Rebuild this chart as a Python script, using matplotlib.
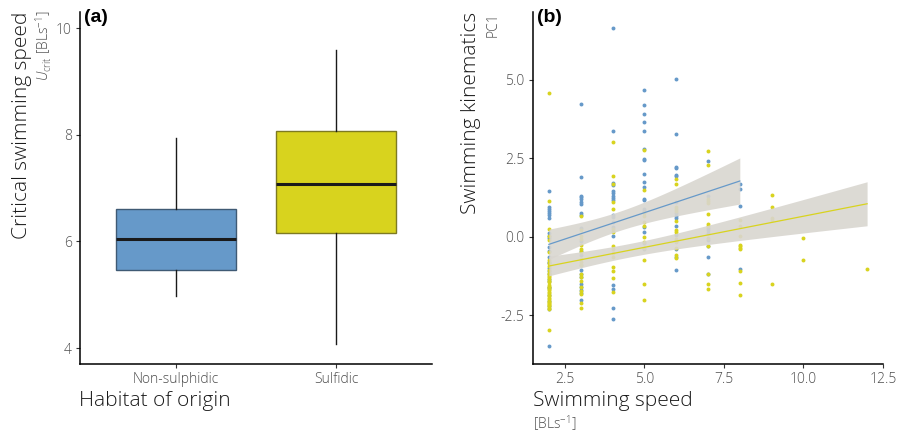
import matplotlib
matplotlib.use('Agg')
import matplotlib.pyplot as plt
import numpy as np

plt.rcParams['font.family'] = ['Open Sans', 'DejaVu Sans']
plt.rcParams['font.weight'] = 'light'
plt.rcParams['axes.unicode_minus'] = False
plt.rcParams['mathtext.fontset'] = 'custom'
plt.rcParams['mathtext.rm'] = 'Open Sans'
plt.rcParams['mathtext.it'] = 'Open Sans:italic'

blue = '#6699c9'
yellow = '#d8d31e'
ribbon = '#d9d6d0'
grey_txt = '#4d4d4d'

# panel (a): Ucrit box summaries
habitat = ['Non-sulphidic', 'Sulfidic']
whislo = [4.97, 4.07]
q1 = [5.47, 6.15]
med = [6.05, 7.07]
q3 = [6.61, 8.06]
whishi = [7.93, 9.59]

# panel (b): PC1 vs swimming speed, non-sulphidic (blue)
ns_speed = [2, 3, 4, 5, 6, 7, 8]
ns_pc1 = [
    [1.47, 0.93, 0.87, 0.81, 0.75, 0.68, 0.58, 0.11, 0.03, -0.05,
     -0.33, -0.45, -0.65, -0.85, -1.0, -1.2, -1.4, -1.6, -2.3, -3.48,
     -0.80, -1.10, -1.35, -1.65, -1.85, -2.05, -2.20],
    [4.22, 1.90, 1.30, 1.25, 1.20, 1.10, 1.04, 0.76, 0.70, 0.27,
     -0.14, -0.46, -0.60, -0.92, -1.81, -2.02, -1.05, -1.30, -1.50, -1.70,
     -1.20, -1.60],
    [6.64, 3.38, 1.72, 1.66, 1.45, 1.38, 1.30, 1.24, 1.18, 0.68,
     0.62, 0.46, 0.30, 0.02, -1.53, -1.66, -2.26, -2.63],
    [4.67, 4.21, 3.90, 3.64, 3.37, 2.78, 2.47, 2.44, 2.01, 1.73,
     1.58, 1.21, 1.16, 0.89, 0.81, 0.30, 0.14, -0.20, -0.40],
    [5.04, 3.27, 2.23, 2.20, 1.97, 1.92, 1.11, 0.74, 0.66, 0.58,
     0.34, 0.05, -1.06, -0.15, -0.40, -0.65],
    [2.42, 1.31, 0.29, 0.21, 0.13, -0.10, -0.64, -0.30, -1.20],
    [1.69, 1.52, 0.98, -1.03],
]

# sulfidic (yellow)
s_speed = [2, 3, 4, 5, 6, 7, 8, 9, 10, 12]
s_pc1 = [
    [4.57, 1.13, 0.24, 0.02, -0.12, -0.50, -0.75, -0.85, -0.95, -1.05,
     -1.15, -1.25, -1.35, -1.45, -1.55, -1.62, -1.70, -1.80, -1.90, -2.00,
     -2.08, -2.15, -2.22, -2.30, -2.97, -1.20, -1.30, -1.40, -1.60, -1.68,
     -1.75, -1.85, -1.95, -2.05, -2.12, -2.18, -2.26],
    [0.65, 0.20, 0.02, -0.08, -0.27, -0.39, -0.49, -0.71, -0.81, -0.92,
     -1.18, -1.29, -1.40, -1.60, -1.72, -1.82, -2.13, -2.26],
    [3.02, 1.94, 1.69, 1.09, 0.87, 0.24, 0.14, -0.29, -0.39, -0.52,
     -0.65, -0.96, -1.09, -1.31, -1.76],
    [2.75, 1.50, 0.74, 0.66, 0.48, 0.34, 0.00, -0.18, -0.37, -0.74,
     -1.50, -2.02],
    [1.85, 1.67, 0.93, 0.87, 0.81, 0.49, 0.21, 0.15, -0.08, -0.16,
     -0.37, -0.60, -0.68],
    [2.74, 2.29, 1.20, 1.14, 1.08, 0.71, 0.39, 0.34, -0.05, -0.31,
     -1.20, -1.50, -1.66],
    [0.53, 0.35, 0.03, -0.27, -0.31, -0.35, -0.39, -1.11, -1.48, -1.87],
    [1.32, 0.94, 0.58, 0.52, -1.50],
    [-0.05, -0.74],
    [-1.03],
]


def flatten(speeds, vals):
    x = np.concatenate([[s] * len(v) for s, v in zip(speeds, vals)])
    y = np.concatenate(vals)
    return x.astype(float), y


def lm_band(x, y, t=1.98):
    b, a = np.polyfit(x, y, 1)
    xs = np.linspace(x.min(), x.max(), 80)
    fit = a + b * xs
    n = len(x)
    resid = y - (a + b * x)
    s = np.sqrt(np.sum(resid ** 2) / (n - 2))
    se = s * np.sqrt(1 / n + (xs - x.mean()) ** 2 / np.sum((x - x.mean()) ** 2))
    return xs, fit, fit - t * se, fit + t * se


fig = plt.figure(figsize=(8.98, 4.37), dpi=100)
W, H = 898, 437


def px_axes(l, t, r, b):
    return fig.add_axes([l / W, 1 - b / H, (r - l) / W, (b - t) / H])


def style(ax):
    for side in ['top', 'right']:
        ax.spines[side].set_visible(False)
    for side in ['left', 'bottom']:
        ax.spines[side].set_linewidth(1.1)
        ax.spines[side].set_color('black')
    ax.tick_params(length=3, width=0.8, color='#333333', labelcolor=grey_txt,
                   labelsize=10, pad=3)


# ---- (a)
ax1 = px_axes(80, 12, 432, 364)
stats = [dict(whislo=whislo[i], q1=q1[i], med=med[i], q3=q3[i], whishi=whishi[i],
              fliers=[]) for i in range(len(habitat))]
bp = ax1.bxp(stats, positions=[1, 2], widths=0.75, patch_artist=True, showcaps=False,
             medianprops=dict(color='#1a1a1a', linewidth=2.2),
             whiskerprops=dict(color='#1a1a1a', linewidth=1.0),
             boxprops=dict(linewidth=1.0))
for patch, fc, ec in zip(bp['boxes'], [blue, yellow], ['#3f5a74', '#7d7a22']):
    patch.set_facecolor(fc)
    patch.set_edgecolor(ec)
ax1.set_xlim(0.4, 2.6)
ax1.set_ylim(3.7, 10.3)
ax1.set_yticks([4, 6, 8, 10])
ax1.set_xticks([1, 2])
ax1.set_xticklabels(habitat)
style(ax1)

fig.text(22 / W, 1 - 12 / H, 'Critical swimming speed', rotation=90, ha='center',
         va='top', fontsize=15, color='#1a1a1a')
fig.text(44 / W, 1 - 10 / H, r'$U_{\mathrm{crit}}$ [BLs$^{-1}$]', rotation=90,
         ha='center', va='top', fontsize=10, color=grey_txt)
fig.text(79 / W, 1 - 401 / H, 'Habitat of origin', ha='left', va='center',
         fontsize=15, color='#1a1a1a')
fig.text(84 / W, 1 - 17 / H, '(a)', family='Liberation Sans', weight='bold',
         fontsize=14, ha='left', va='center')

# ---- (b)
ax2 = px_axes(533, 12, 883, 364)
nx, ny = flatten(ns_speed, ns_pc1)
sx, sy = flatten(s_speed, s_pc1)
ax2.scatter(nx, ny, s=8, color=blue, linewidths=0, zorder=2)
ax2.scatter(sx, sy, s=8, color=yellow, linewidths=0, zorder=2)
for x, y, c in [(nx, ny, blue), (sx, sy, yellow)]:
    xs, fit, lo, hi = lm_band(x, y)
    ax2.fill_between(xs, lo, hi, color=ribbon, alpha=0.9, linewidth=0, zorder=3)
    ax2.plot(xs, fit, color=c, linewidth=0.9, zorder=4)
ax2.set_xlim(1.5, 12.5)
ax2.set_ylim(-4.06, 7.16)
ax2.set_xticks([2.5, 5.0, 7.5, 10.0, 12.5])
ax2.set_yticks([-2.5, 0.0, 2.5, 5.0])
ax2.xaxis.set_major_formatter(matplotlib.ticker.FormatStrFormatter('%.1f'))
ax2.yaxis.set_major_formatter(matplotlib.ticker.FormatStrFormatter('%.1f'))
style(ax2)

fig.text(471 / W, 1 - 12 / H, 'Swimming kinematics', rotation=90, ha='center',
         va='top', fontsize=15, color='#1a1a1a')
fig.text(493 / W, 1 - 12 / H, 'PC1', rotation=90, ha='center', va='top',
         fontsize=10, color=grey_txt)
fig.text(533 / W, 1 - 401 / H, 'Swimming speed', ha='left', va='center',
         fontsize=15, color='#1a1a1a')
fig.text(533 / W, 1 - 423 / H, r'[BLs$^{-1}$]', ha='left', va='center',
         fontsize=10, color=grey_txt)
fig.text(537 / W, 1 - 17 / H, '(b)', family='Liberation Sans', weight='bold',
         fontsize=14, ha='left', va='center')

fig.savefig('out.png', dpi=100)
